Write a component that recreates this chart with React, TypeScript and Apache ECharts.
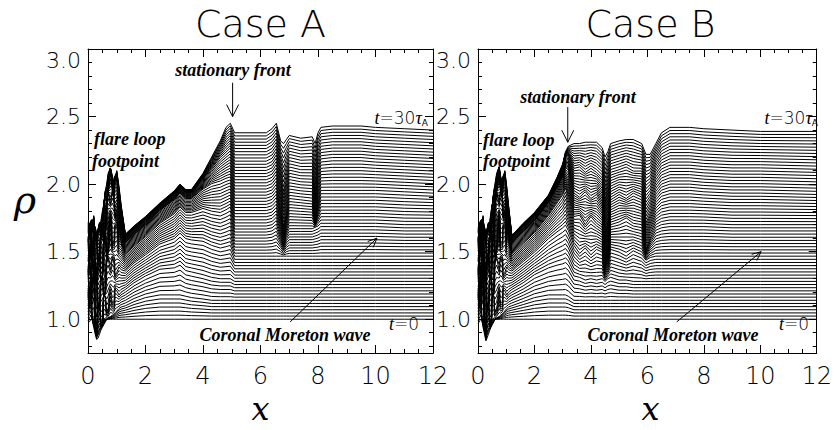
import React, { useEffect, useRef } from "react";
import * as echarts from "echarts";

// ---- data ----
// Times (in tau_A) of the density profiles
const keyTimes = [0, 3, 6, 10, 15, 20, 25, 30];
// number of plotted profiles (t = 0 ... 30 tau_A) and the stacking offset of the last one
const lineCount = 61;
const tEnd = 30;
const stackOffset = 1.4;

// Case A: x positions and rho(x) at each key time
const xA = [0, 0.05, 0.1, 0.15, 0.2, 0.25, 0.3, 0.35, 0.4, 0.45, 0.5, 0.55, 0.6, 0.65, 0.7, 0.78, 0.85, 0.9, 0.95, 1.0, 1.08, 1.15, 1.3, 1.6, 2.0, 2.5, 3.0, 3.2, 3.4, 3.6, 4.0, 4.3, 4.6, 4.8, 4.95, 5.1, 5.6, 6.2, 6.4, 6.55, 6.7, 6.8, 6.9, 7.0, 7.4, 7.8, 7.9, 8.0, 8.1, 8.5, 9.5, 10, 11, 12];
const rhoA = [
  [0.97, 0.96, 0.92, 0.86, 0.75, 0.63, 0.48, 0.32],
  [0.98, 1.0, 0.8, 0.98, 0.7, 0.72, 0.45, 0.3],
  [1.0, 1.05, 1.08, 0.8, 0.92, 0.62, 0.55, 0.33],
  [1.0, 0.85, 0.95, 1.02, 0.72, 0.78, 0.5, 0.34],
  [1.0, 0.8, 1.1, 0.85, 0.95, 0.68, 0.6, 0.3],
  [1.0, 0.75, 0.75, 0.98, 0.6, 0.75, 0.45, 0.28],
  [1.0, 0.71, 0.62, 0.9, 0.55, 0.7, 0.38, 0.22],
  [1.0, 0.72, 0.8, 0.62, 0.72, 0.5, 0.5, 0.25],
  [1.0, 0.75, 0.85, 0.6, 0.8, 0.5, 0.55, 0.28],
  [1.0, 0.78, 0.7, 0.82, 0.6, 0.72, 0.42, 0.33],
  [1.0, 0.8, 0.7, 0.85, 0.62, 0.78, 0.45, 0.4],
  [1.0, 0.82, 0.9, 0.7, 0.88, 0.62, 0.68, 0.45],
  [1.0, 0.84, 0.88, 0.75, 0.95, 0.7, 0.75, 0.55],
  [1.0, 0.86, 0.78, 0.95, 0.78, 0.92, 0.7, 0.6],
  [1.0, 0.87, 0.8, 0.98, 0.85, 1.0, 0.8, 0.68],
  [1.0, 0.88, 0.92, 0.9, 1.05, 0.92, 0.95, 0.72],
  [1.0, 0.89, 0.84, 0.98, 0.86, 1.0, 0.82, 0.66],
  [1.0, 0.9, 0.85, 0.95, 0.88, 0.96, 0.75, 0.62],
  [1.0, 0.91, 0.94, 0.86, 0.98, 0.84, 0.9, 0.65],
  [1.0, 0.92, 0.93, 0.88, 0.98, 0.88, 0.88, 0.7],
  [1.0, 0.94, 0.9, 0.92, 0.86, 0.82, 0.7, 0.58],
  [1.0, 0.95, 0.92, 0.9, 0.85, 0.72, 0.6, 0.45],
  [1.0, 0.96, 0.94, 0.89, 0.78, 0.63, 0.44, 0.23],
  [1.0, 0.99, 0.99, 0.95, 0.84, 0.69, 0.5, 0.29],
  [1.0, 1.02, 1.04, 1.01, 0.91, 0.76, 0.57, 0.36],
  [1.0, 1.04, 1.09, 1.09, 1.01, 0.87, 0.67, 0.46],
  [1.0, 1.04, 1.1, 1.13, 1.08, 0.95, 0.76, 0.55],
  [1.0, 1.04, 1.12, 1.17, 1.13, 1.0, 0.81, 0.6],
  [1.0, 1.03, 1.08, 1.13, 1.09, 0.96, 0.77, 0.56],
  [1.0, 1.02, 1.07, 1.12, 1.09, 0.96, 0.77, 0.56],
  [1.0, 1.01, 1.05, 1.11, 1.12, 1.03, 0.87, 0.68],
  [1.0, 1.0, 1.03, 1.08, 1.1, 1.07, 0.95, 0.8],
  [1.0, 1.0, 1.02, 1.06, 1.09, 1.09, 1.03, 0.92],
  [1.0, 1.0, 1.02, 1.07, 1.11, 1.11, 1.07, 1.02],
  [1.0, 1.0, 1.02, 1.08, 1.13, 1.12, 1.1, 1.05],
  [1.0, 1.0, 1.0, 1.0, 0.99, 0.985, 0.98, 0.98],
  [1.0, 1.0, 1.0, 1.0, 0.99, 0.985, 0.98, 0.98],
  [1.0, 1.0, 1.0, 1.0, 0.99, 0.985, 0.98, 0.98],
  [1.0, 1.0, 1.0, 1.0, 1.0, 1.0, 1.0, 1.01],
  [1.0, 1.0, 1.0, 1.0, 1.03, 1.04, 1.05, 1.05],
  [1.0, 1.0, 1.0, 1.0, 0.93, 0.88, 0.9, 0.92],
  [1.0, 1.0, 1.0, 1.0, 0.86, 0.76, 0.78, 0.9],
  [1.0, 1.0, 1.0, 1.0, 0.93, 0.85, 0.87, 0.93],
  [1.0, 1.0, 1.0, 1.0, 0.97, 0.96, 0.96, 0.96],
  [1.0, 1.0, 1.0, 1.0, 0.97, 0.95, 0.94, 0.94],
  [1.0, 1.0, 1.0, 1.0, 0.97, 0.94, 0.94, 0.95],
  [1.0, 1.0, 1.0, 1.0, 0.98, 0.8, 0.8, 0.9],
  [1.0, 1.0, 1.0, 1.0, 0.99, 0.93, 0.95, 0.98],
  [1.0, 1.0, 1.0, 1.0, 1.01, 1.02, 1.02, 1.02],
  [1.0, 1.0, 1.0, 1.0, 1.01, 1.02, 1.03, 1.03],
  [1.0, 1.0, 1.0, 1.0, 1.01, 1.02, 1.03, 1.03],
  [1.0, 1.0, 1.0, 1.0, 1.01, 1.02, 1.02, 1.02],
  [1.0, 1.0, 1.0, 1.0, 1.0, 1.01, 1.01, 1.01],
  [1.0, 1.0, 1.0, 1.0, 1.0, 1.0, 1.0, 1.0],
];

// Case B: x positions and rho(x) at each key time
const xB = [0, 0.045, 0.09, 0.14, 0.18, 0.23, 0.28, 0.32, 0.37, 0.42, 0.46, 0.51, 0.56, 0.6, 0.66, 0.75, 0.8, 0.86, 0.9, 0.95, 1.02, 1.08, 1.2, 1.6, 2.0, 2.5, 2.8, 3.0, 3.1, 3.2, 3.4, 3.6, 3.8, 4.0, 4.2, 4.4, 4.5, 4.6, 4.7, 5.0, 5.25, 5.5, 5.8, 5.95, 6.1, 6.3, 6.5, 6.8, 7.5, 8, 9, 10, 12];
const rhoB = [
  [0.97, 0.96, 0.92, 0.86, 0.75, 0.63, 0.48, 0.3],
  [0.98, 1.0, 0.8, 0.98, 0.7, 0.72, 0.45, 0.3],
  [1.0, 1.04, 1.08, 0.8, 0.92, 0.62, 0.55, 0.33],
  [1.0, 0.85, 0.95, 1.02, 0.72, 0.78, 0.5, 0.34],
  [1.0, 0.8, 1.08, 0.86, 0.95, 0.68, 0.6, 0.3],
  [1.0, 0.75, 0.75, 0.98, 0.6, 0.75, 0.45, 0.28],
  [1.0, 0.7, 0.61, 0.9, 0.55, 0.7, 0.38, 0.22],
  [1.0, 0.72, 0.8, 0.62, 0.72, 0.5, 0.5, 0.25],
  [1.0, 0.75, 0.85, 0.6, 0.8, 0.5, 0.55, 0.28],
  [1.0, 0.78, 0.7, 0.82, 0.6, 0.72, 0.42, 0.33],
  [1.0, 0.8, 0.7, 0.85, 0.62, 0.78, 0.45, 0.4],
  [1.0, 0.82, 0.9, 0.7, 0.88, 0.62, 0.68, 0.45],
  [1.0, 0.84, 0.88, 0.75, 0.95, 0.7, 0.75, 0.55],
  [1.0, 0.86, 0.78, 0.95, 0.78, 0.92, 0.7, 0.6],
  [1.0, 0.87, 0.8, 0.98, 0.85, 1.0, 0.8, 0.68],
  [1.0, 0.88, 0.92, 0.9, 1.05, 0.92, 0.95, 0.73],
  [1.0, 0.89, 0.84, 0.98, 0.86, 1.0, 0.82, 0.66],
  [1.0, 0.9, 0.85, 0.95, 0.88, 0.96, 0.75, 0.62],
  [1.0, 0.91, 0.94, 0.86, 0.98, 0.84, 0.9, 0.65],
  [1.0, 0.92, 0.93, 0.88, 0.98, 0.88, 0.88, 0.7],
  [1.0, 0.94, 0.9, 0.92, 0.86, 0.82, 0.7, 0.58],
  [1.0, 0.95, 0.92, 0.9, 0.85, 0.72, 0.6, 0.45],
  [1.0, 0.96, 0.94, 0.89, 0.78, 0.63, 0.44, 0.22],
  [1.0, 0.99, 0.99, 0.96, 0.86, 0.71, 0.52, 0.31],
  [1.0, 1.02, 1.05, 1.03, 0.94, 0.79, 0.6, 0.39],
  [1.0, 1.04, 1.1, 1.13, 1.07, 0.93, 0.73, 0.52],
  [1.0, 1.04, 1.12, 1.18, 1.16, 1.04, 0.85, 0.65],
  [1.0, 1.04, 1.13, 1.21, 1.22, 1.12, 0.94, 0.75],
  [1.0, 1.04, 1.14, 1.23, 1.27, 1.19, 1.03, 0.84],
  [1.0, 1.03, 1.12, 1.19, 1.2, 1.17, 1.05, 0.88],
  [1.0, 1.0, 1.04, 1.08, 1.06, 1.0, 0.95, 0.9],
  [1.0, 1.0, 1.03, 1.02, 1.07, 0.97, 0.96, 0.9],
  [1.0, 1.0, 1.01, 1.06, 1.0, 1.01, 0.92, 0.91],
  [1.0, 1.0, 1.02, 1.01, 1.06, 0.96, 0.95, 0.91],
  [1.0, 1.0, 1.01, 1.05, 1.01, 0.99, 0.92, 0.91],
  [1.0, 1.0, 1.02, 1.03, 0.98, 0.92, 0.88, 0.87],
  [1.0, 1.0, 1.0, 0.9, 0.75, 0.7, 0.72, 0.8],
  [1.0, 1.0, 1.02, 0.95, 0.85, 0.8, 0.82, 0.84],
  [1.0, 1.0, 1.03, 1.05, 1.0, 0.95, 0.92, 0.9],
  [1.0, 1.0, 1.01, 1.03, 1.02, 0.99, 0.94, 0.92],
  [1.0, 1.0, 1.01, 1.0, 1.05, 0.96, 0.96, 0.93],
  [1.0, 1.0, 1.0, 1.04, 1.01, 1.0, 0.93, 0.93],
  [1.0, 1.0, 1.0, 1.01, 1.0, 0.97, 0.93, 0.9],
  [1.0, 1.0, 1.0, 0.97, 0.82, 0.78, 0.8, 0.82],
  [1.0, 1.0, 1.0, 0.99, 0.9, 0.85, 0.83, 0.82],
  [1.0, 1.0, 1.0, 1.0, 0.98, 0.95, 0.93, 0.9],
  [1.0, 1.0, 1.0, 1.0, 1.0, 1.0, 0.99, 0.98],
  [1.0, 1.0, 1.0, 1.0, 1.01, 1.02, 1.02, 1.02],
  [1.0, 1.0, 1.0, 1.0, 1.01, 1.02, 1.02, 1.02],
  [1.0, 1.0, 1.0, 1.0, 1.01, 1.01, 1.01, 1.01],
  [1.0, 1.0, 1.0, 1.0, 1.0, 1.0, 1.0, 1.0],
  [1.0, 1.0, 1.0, 1.0, 1.0, 1.0, 1.0, 0.99],
  [1.0, 1.0, 1.0, 1.0, 1.0, 0.99, 0.99, 0.99],
];

const yTicks = [1.0, 1.5, 2.0, 2.5, 3.0];
const yMinorTicks = [0.8, 0.9, 1.1, 1.2, 1.3, 1.4, 1.6, 1.7, 1.8, 1.9, 2.1, 2.2, 2.3, 2.4, 2.6, 2.7, 2.8, 2.9];
const panelTitles = ["Case A", "Case B"];

// ---- styling ----
const thinFont = "DejaVu Sans";
const serif = "Liberation Serif";
const mathSerif = "DejaVu Serif";
const GRID_TOP = 49;
const GRID_H = 304;
const GRID_W = 345;
const GRID_LEFT = [88, 478];

function profilesToSeries(xs: number[], rho: number[][], g: number) {
  const out: any[] = [];
  for (let k = 0; k < lineCount; k++) {
    const t = (k * tEnd) / (lineCount - 1);
    let i = 0;
    while (i < keyTimes.length - 2 && t > keyTimes[i + 1]) i++;
    const w = (t - keyTimes[i]) / (keyTimes[i + 1] - keyTimes[i]);
    const off = (stackOffset * t) / tEnd;
    const data = xs.map((x, j) => [x, (1 - w) * rho[j][i] + w * rho[j][i + 1] + off]);
    out.push({
      type: "line",
      xAxisIndex: g * 2,
      yAxisIndex: g * 4,
      data,
      symbol: "none",
      silent: true,
      lineStyle: { color: "#000", width: 1 },
      z: 2,
    });
  }
  return out;
}

function xAxes(g: number) {
  const base = {
    type: "value",
    gridIndex: g,
    min: 0,
    max: 12,
    interval: 2,
    splitLine: { show: false },
    axisLine: { show: true, onZero: false, lineStyle: { color: "#000", width: 1 } },
    axisTick: { show: true, inside: true, length: 8, lineStyle: { color: "#000" } },
    minorTick: { show: true, splitNumber: 4, length: 4, lineStyle: { color: "#000" } },
  };
  return [
    {
      ...base,
      position: "bottom",
      axisLabel: { show: true, color: "#000", fontFamily: thinFont, fontWeight: 200, fontSize: 24, margin: 11 },
    },
    { ...base, position: "top", axisLabel: { show: false } },
  ];
}

function yAxes(g: number) {
  const mk = (side: string, major: boolean, labels: boolean) => ({
    type: "value",
    gridIndex: g,
    min: 0.75,
    max: 3.0,
    position: side,
    splitLine: { show: false },
    axisLine: { show: major, onZero: false, lineStyle: { color: "#000", width: 1 } },
    axisTick: {
      show: true,
      inside: true,
      length: major ? 8 : 4,
      customValues: major ? yTicks : yMinorTicks,
      lineStyle: { color: "#000" },
    },
    axisLabel: labels
      ? {
          show: true,
          customValues: yTicks,
          color: "#000",
          fontFamily: thinFont,
          fontWeight: 200,
          fontSize: 22,
          margin: 7,
          formatter: (v: number) => (v > 2.99 ? `{top|${v.toFixed(1)}}` : v.toFixed(1)),
          rich: {
            top: { fontFamily: thinFont, fontWeight: 200, fontSize: 22, color: "#000", padding: [22, 0, 0, 0] },
          },
        }
      : { show: false },
  });
  return [mk("left", true, true), mk("left", false, false), mk("right", true, false), mk("right", false, false)];
}

export default function App() {
  const ref = useRef<HTMLDivElement>(null);
  useEffect(() => {
    if (!ref.current) return;
    const chart = echarts.init(ref.current, undefined, { renderer: "svg" });
    const grids = GRID_LEFT.map((l) => ({ left: l, top: GRID_TOP, width: GRID_W, height: GRID_H, containLabel: false }));
    const series = [...profilesToSeries(xA, rhoA, 0), ...profilesToSeries(xB, rhoB, 1)];
    chart.setOption({
      animation: false,
      backgroundColor: "#fff",
      grid: grids,
      xAxis: [...xAxes(0), ...xAxes(1)],
      yAxis: [...yAxes(0), ...yAxes(1)],
      series,
    });

    const seriesOf = [0, lineCount];
    const px = (g: number, x: number, y: number) => chart.convertToPixel({ seriesIndex: seriesOf[g] }, [x, y]) as number[];
    const arrow = (g: number, x0: number, y0: number, x1: number, y1: number, head: number, half: number) => {
      const a = px(g, x0, y0);
      const b = px(g, x1, y1);
      const dx = b[0] - a[0];
      const dy = b[1] - a[1];
      const L = Math.hypot(dx, dy);
      const ux = dx / L;
      const uy = dy / L;
      const bx = b[0] - ux * head;
      const by = b[1] - uy * head;
      return [
        { type: "line", shape: { x1: a[0], y1: a[1], x2: b[0], y2: b[1] }, style: { stroke: "#000", lineWidth: 1 }, z: 10 },
        {
          type: "polyline",
          shape: { points: [[bx - uy * half, by + ux * half], [b[0], b[1]], [bx + uy * half, by - ux * half]] },
          style: { stroke: "#000", lineWidth: 1, fill: null },
          z: 10,
        },
      ];
    };
    const annot = { fontFamily: serif, fontStyle: "italic", fontWeight: "bold", fontSize: 18, fill: "#000" };
    const txt = (x: number, y: number, text: string, extra: any = {}) => ({
      type: "text",
      x,
      y,
      z: 11,
      style: { text, ...annot, verticalAlign: "middle", ...extra },
    });
    const tLabel = (x: number, y: number, text: string) => ({
      type: "text",
      x,
      y,
      z: 11,
      style: {
        text,
        align: "right",
        verticalAlign: "middle",
        fill: "#000",
        rich: {
          it: { fontFamily: serif, fontStyle: "italic", fontSize: 18, fill: "#000" },
          n: { fontFamily: thinFont, fontWeight: 200, fontSize: 17, fill: "#000" },
          sub: { fontFamily: thinFont, fontSize: 9, fill: "#000", padding: [10, 0, 0, 0] },
        },
      },
    });

    const graphics: any[] = [];
    panelTitles.forEach((title, g) => {
      const cx = GRID_LEFT[g] + GRID_W / 2;
      graphics.push({
        type: "text",
        x: cx,
        y: 24,
        style: { text: title, align: "center", verticalAlign: "middle", fontFamily: thinFont, fontWeight: 200, fontSize: 38, fill: "#000" },
      });
      graphics.push({
        type: "text",
        x: cx,
        y: 409,
        style: { text: "x", align: "center", verticalAlign: "middle", fontFamily: mathSerif, fontStyle: "italic", fontSize: 32, fill: "#000" },
      });
      graphics.push(tLabel(GRID_LEFT[g] + GRID_W - 5, 118, "{it|t}{n|=30}{it|τ}{sub|A}"));
      graphics.push(tLabel(GRID_LEFT[g] + GRID_W - 14, 324, "{it|t}{n|=0}"));
    });
    graphics.push({
      type: "text",
      x: 25,
      y: 200,
      style: { text: "ρ", align: "center", verticalAlign: "middle", fontFamily: mathSerif, fontStyle: "italic", fontSize: 38, fill: "#000" },
    });
    // Case A annotations
    graphics.push(txt(233, 70, "stationary front", { align: "center" }));
    graphics.push(txt(94, 139, "flare loop"));
    graphics.push(txt(92, 161, "footpoint"));
    graphics.push(txt(285, 335, "Coronal Moreton wave", { align: "center" }));
    graphics.push(...arrow(0, 5.03, 2.75, 5.03, 2.5, 12, 6));
    graphics.push(...arrow(0, 7.03, 0.98, 10.05, 1.6, 9, 4));
    // Case B annotations
    graphics.push(txt(578, 97, "stationary front", { align: "center" }));
    graphics.push(txt(483, 140, "flare loop"));
    graphics.push(txt(483, 161, "footpoint"));
    graphics.push(txt(673, 335, "Coronal Moreton wave", { align: "center" }));
    graphics.push(...arrow(1, 3.18, 2.57, 3.18, 2.31, 12, 6));
    graphics.push(...arrow(1, 7.04, 0.98, 10.03, 1.5, 9, 4));

    chart.setOption({ graphic: graphics });
    return () => chart.dispose();
  }, []);
  return <div ref={ref} style={{ position: "absolute", left: 0, top: 0, width: 835, height: 430 }} />;
}
